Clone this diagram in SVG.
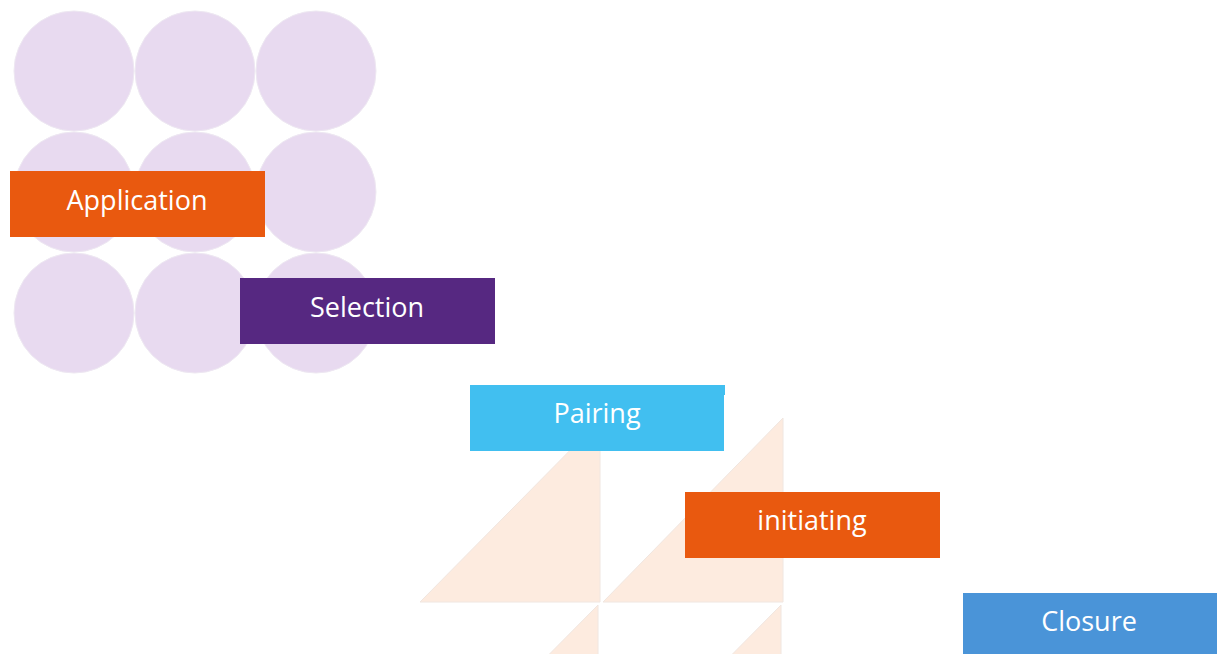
<svg xmlns="http://www.w3.org/2000/svg" width="1217" height="654" viewBox="0 0 1217 654">
  <style>
    .dot { fill: #E8DAF0; stroke: #EEE8F2; stroke-width: 1; }
    .tri { fill: #FDEBDF; stroke: #F0E6E0; stroke-width: 1; }
    .label { font-family: "Open Sans", "Noto Sans", "Liberation Sans", sans-serif; font-size: 27px; fill: #FFFFFF; text-anchor: middle; dominant-baseline: central; }
    .orange { fill: #E9590F; }
    .purple { fill: #562881; }
    .cyan { fill: #41BFF0; }
    .blue { fill: #4A94D8; }
  </style>

  <!-- decorative dot grid -->
  <g id="dots">
    <circle class="dot" cx="74" cy="71" r="60"/>
    <circle class="dot" cx="195" cy="71" r="60"/>
    <circle class="dot" cx="316" cy="71" r="60"/>
    <circle class="dot" cx="74" cy="192" r="60"/>
    <circle class="dot" cx="195" cy="192" r="60"/>
    <circle class="dot" cx="316" cy="192" r="60"/>
    <circle class="dot" cx="74" cy="313" r="60"/>
    <circle class="dot" cx="195" cy="313" r="60"/>
    <circle class="dot" cx="316" cy="313" r="60"/>
  </g>

  <!-- decorative triangles -->
  <g id="triangles">
    <polygon class="tri" points="420,602 600,602 600,420"/>
    <polygon class="tri" points="603,602 783,602 783,418"/>
    <polygon class="tri" points="418,787 598,787 598,605"/>
    <polygon class="tri" points="601,787 781,787 781,605"/>
  </g>

  <g id="connectors"></g>

  <g id="application">
    <rect class="orange" x="10" y="171" width="255" height="66"/>
    <text class="label" x="137" y="199">Application</text>
  </g>

  <g id="selection">
    <rect class="purple" x="240" y="278" width="255" height="66"/>
    <text class="label" x="367" y="306">Selection</text>
  </g>

  <g id="pairing">
    <rect class="cyan" x="470" y="385" width="254" height="66"/>
    <rect class="cyan" x="720" y="385" width="5" height="10"/>
    <text class="label" x="597" y="412">Pairing</text>
  </g>

  <g id="initiating">
    <rect class="orange" x="685" y="492" width="255" height="66"/>
    <text class="label" x="812" y="519">initiating</text>
  </g>

  <g id="closure">
    <rect class="blue" x="963" y="593" width="254" height="61"/>
    <text class="label" x="1089" y="620">Closure</text>
  </g>
</svg>
